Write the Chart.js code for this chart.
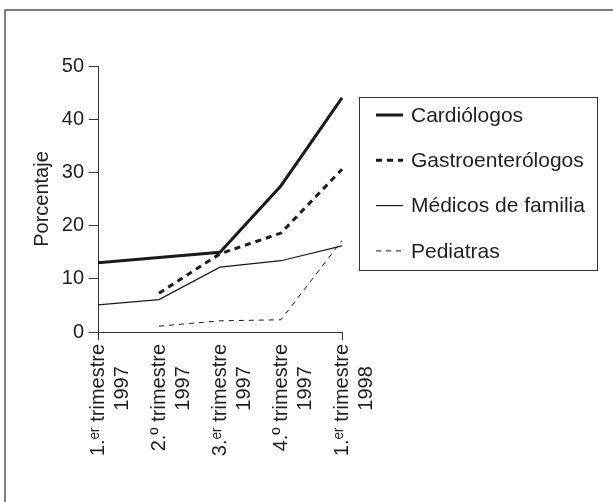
<!DOCTYPE html>
<html>
<head>
<meta charset="utf-8">
<script src="https://cdn.jsdelivr.net/npm/chart.js@4/dist/chart.umd.min.js"></script>
<style>
	body { margin: 0; background: #fff; }
	#wrap { position: relative; width: 613px; height: 502px; }
</style>
</head>
<body>
<div id="wrap"><canvas id="chart" width="613" height="502"></canvas></div>
<script>
// second line padded so it sits roughly centred under the first, as in the source
const quarters = [
	["1.ᵉʳ trimestre", "1997\u00a0\u00a0\u00a0\u00a0"],
	["2.º trimestre", "1997\u00a0\u00a0\u00a0\u00a0"],
	["3.ᵉʳ trimestre", "1997\u00a0\u00a0\u00a0\u00a0"],
	["4.º trimestre", "1997\u00a0\u00a0\u00a0\u00a0"],
	["1.ᵉʳ trimestre", "1998\u00a0\u00a0\u00a0\u00a0"],
];
const cardiologos = [13, 14, 15, 27.5, 44];
const gastroenterologos = [null, 7.3, 14.7, 18.6, 30.6];
const medicosFamilia = [5.1, 6.1, 12.2, 13.4, 16.2];
const pediatras = [null, 1.1, 2.1, 2.3, 17.2];
const yTicks = [0, 10, 20, 30, 40, 50];

const FONT = "'Liberation Sans', Arial, sans-serif";
const INK = "#1f1f1f";
const AXIS = "#333";

// outer frame (only top and left edges fall inside the picture)
const framePlugin = {
	id: "frame",
	beforeDraw(chart) {
		const c = chart.ctx;
		c.save();
		c.strokeStyle = "#555";
		c.lineWidth = 1.5;
		c.beginPath();
		c.moveTo(5, 502);
		c.lineTo(5, 10);
		c.lineTo(613, 10);
		c.stroke();
		c.restore();
	},
};

// boxed legend to the right of the plot
const boxLegend = {
	id: "boxLegend",
	afterDraw(chart) {
		const c = chart.ctx;
		const box = { x: 359.5, y: 97.5, w: 238, h: 173 };
		c.save();
		c.strokeStyle = AXIS;
		c.lineWidth = 1;
		c.strokeRect(box.x, box.y, box.w, box.h);
		c.font = "21px " + FONT;
		c.fillStyle = INK;
		c.textBaseline = "middle";
		chart.data.datasets.forEach((ds, i) => {
			const y = 115 + i * 45.3;
			c.strokeStyle = ds.borderColor;
			c.lineWidth = ds.borderWidth;
			c.setLineDash(ds.borderDash || []);
			c.beginPath();
			c.moveTo(376, y);
			c.lineTo(403, y);
			c.stroke();
			c.fillText(ds.label, 411, y + 1);
		});
		c.restore();
	},
};

new Chart(document.getElementById("chart"), {
	type: "line",
	data: {
		labels: quarters,
		datasets: [
			{
				label: "Cardiólogos",
				data: cardiologos,
				borderColor: "#1a1a1a",
				borderWidth: 3,
			},
			{
				label: "Gastroenterólogos",
				data: gastroenterologos,
				borderColor: "#1a1a1a",
				borderWidth: 3,
				borderDash: [6, 5],
			},
			{
				label: "Médicos de familia",
				data: medicosFamilia,
				borderColor: "#1a1a1a",
				borderWidth: 1.2,
			},
			{
				label: "Pediatras",
				data: pediatras,
				borderColor: "#1a1a1a",
				borderWidth: 1,
				borderDash: [5, 5],
			},
		],
	},
	options: {
		responsive: false,
		animation: false,
		elements: { point: { radius: 0 }, line: { tension: 0 } },
		layout: { padding: { top: 66, right: 271, bottom: 0, left: 0 } },
		plugins: { legend: { display: false }, tooltip: { enabled: false } },
		scales: {
			x: {
				offset: false,
				border: { color: AXIS, width: 1 },
				grid: {
					drawOnChartArea: false,
					tickLength: 8,
					color: (ctx) => (ctx.index === 0 || ctx.index === quarters.length - 1 ? AXIS : "transparent"),
				},
				ticks: {
					color: INK,
					font: { family: FONT, size: 20 },
					minRotation: 90,
					maxRotation: 90,
					padding: 4,
					autoSkip: false,
				},
				afterFit: (scale) => { scale.height = 170; },
			},
			y: {
				min: 0,
				max: 50,
				border: { color: AXIS, width: 1 },
				grid: { drawOnChartArea: false, tickLength: 9, color: AXIS },
				afterBuildTicks: (scale) => { scale.ticks = yTicks.map((v) => ({ value: v })); },
				ticks: {
					color: INK,
					font: { family: FONT, size: 20 },
					padding: 5,
				},
				title: {
					display: true,
					text: "Porcentaje",
					color: INK,
					font: { family: FONT, size: 20 },
					padding: { top: 30, bottom: 0 },
				},
				afterFit: (scale) => { scale.width = 98; },
			},
		},
	},
	plugins: [framePlugin, boxLegend],
});
</script>
</body>
</html>
